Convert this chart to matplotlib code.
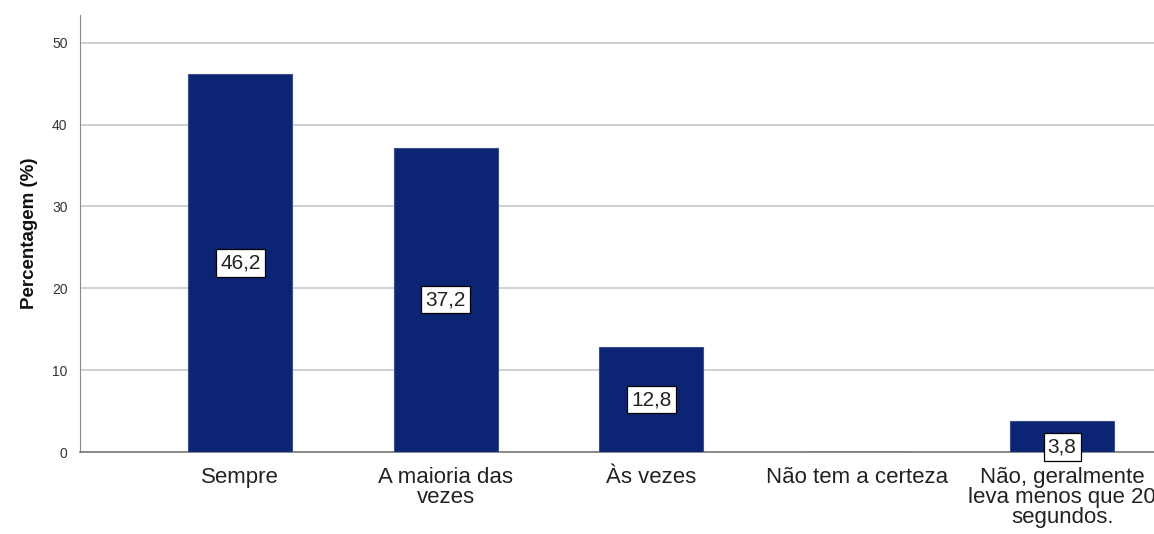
import numpy as np
import matplotlib.pyplot as plt

plt.rcParams['font.family'] = ['Liberation Sans', 'DejaVu Sans']

categories = ["Sempre", "A maioria das\nvezes", "Às vezes", "Não tem a certeza",
              "Não, geralmente\nleva menos que 20\nsegundos."]
values = [46.2, 37.2, 12.8, 0.0, 3.8]
labels = ["46,2", "37,2", "12,8", None, "3,8"]

fig = plt.figure(figsize=(11.54, 5.34), dpi=100)
ax = fig.add_axes([80 / 1154, 1 - 452 / 534, 1 - 80 / 1154, (452 - 15) / 534])

x = np.arange(len(categories))
ax.bar(x, values, width=0.506, color="#0b2574", edgecolor="#3a4f8f", linewidth=0.8, zorder=3)

for xi, v, lab in zip(x, values, labels):
    if lab is None:
        continue
    ax.text(xi, v / 2 if v > 5 else v / 2 - 1.3, lab, ha="center", va="center", fontsize=15,
            color="#222222", zorder=4,
            bbox=dict(boxstyle="square,pad=0.2", facecolor="white", edgecolor="black", linewidth=0.9))

ax.set_xlim(-0.78, 4.447)
ax.set_ylim(0, 53.4)
ax.set_yticks([0, 10, 20, 30, 40, 50])
ax.yaxis.grid(True, color="#c8c8c8", linewidth=1.2, zorder=0)
ax.set_axisbelow(True)

ax.set_xticks(x)
ax.set_xticklabels(categories, fontsize=16, color="#222222", linespacing=0.92)
ax.tick_params(axis="x", length=0, pad=11)
ax.tick_params(axis="y", length=0, pad=9, labelsize=10, labelcolor="#333333")

ax.set_ylabel("Percentagem (%)", fontsize=13.5, fontweight="bold", color="#111111", labelpad=10)

for s in ["top", "right"]:
    ax.spines[s].set_visible(False)
ax.spines["left"].set_color("#888888")
ax.spines["bottom"].set_color("#777777")
ax.spines["bottom"].set_linewidth(1.2)

fig.savefig("out.png", dpi=100)
